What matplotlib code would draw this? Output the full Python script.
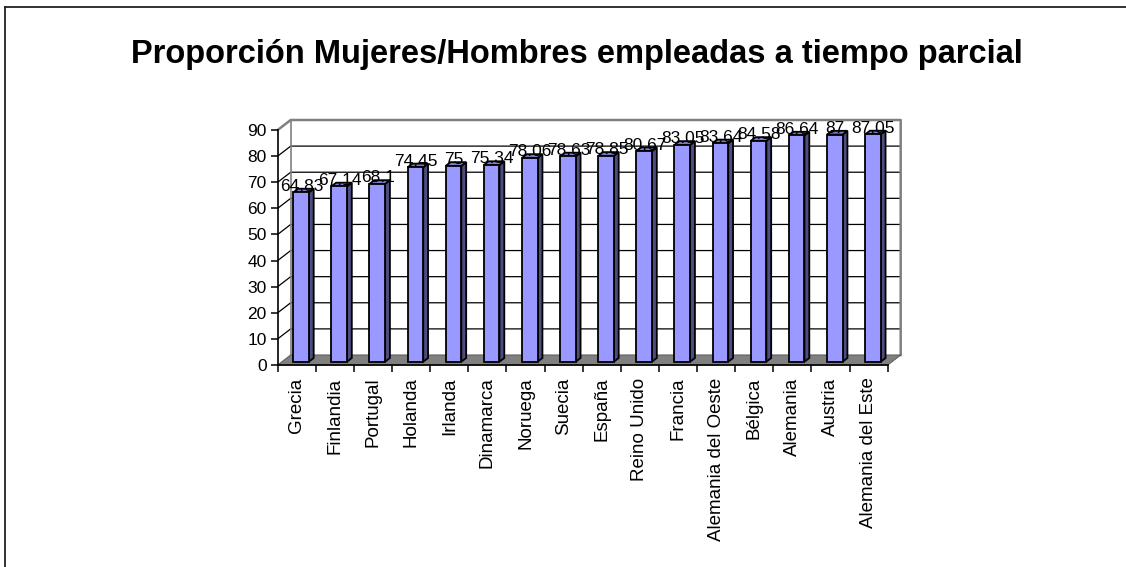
import matplotlib
matplotlib.use("Agg")
import matplotlib.pyplot as plt
from matplotlib.patches import Polygon, Rectangle
from matplotlib.lines import Line2D

plt.rcParams['font.family'] = ['Liberation Sans', 'DejaVu Sans']

# ---------------- data ----------------
categories = ["Grecia", "Finlandia", "Portugal", "Holanda", "Irlanda", "Dinamarca",
              "Noruega", "Suecia", "España", "Reino Unido", "Francia",
              "Alemania del Oeste", "Bélgica", "Alemania", "Austria", "Alemania del Este"]
values = [64.83, 67.14, 68.1, 74.45, 75, 75.34, 78.06, 78.63, 78.85, 80.67,
          83.05, 83.64, 84.58, 86.64, 87, 87.05]
value_labels = ["64.83", "67.14", "68.1", "74.45", "75", "75.34", "78.06", "78.63",
                "78.85", "80.67", "83.05", "83.64", "84.58", "86.64", "87", "87.05"]
yticks = list(range(0, 100, 10))
title = "Proporción Mujeres/Hombres empleadas a tiempo parcial"

# ---------------- figure ----------------
W, H = 1126, 567
fig = plt.figure(figsize=(W / 100, H / 100), dpi=100)
fig.patch.set_facecolor('white')

# outer frame (left and top edges visible)
fig.add_artist(Line2D([5 / W, 5 / W], [0, 1 - 7 / H], color='#222222', lw=1.3,
                      transform=fig.transFigure))
fig.add_artist(Line2D([5 / W, 1], [1 - 7 / H, 1 - 7 / H], color='#222222', lw=1.3,
                      transform=fig.transFigure))

x_left, x_right = 277.7, 887.7
y_bot, y_top = 365, 130
ax = fig.add_axes([x_left / W, 1 - y_bot / H, (x_right - x_left) / W, (y_bot - y_top) / H])
ax.set_facecolor('none')
n = len(categories)
ymax = 90
ax.set_xlim(0, n)
ax.set_ylim(0, ymax)

px_per_cat = (x_right - x_left) / n
px_per_val = (y_bot - y_top) / ymax
DX = 13 / px_per_cat
DY = 10 / px_per_val

wall_col = '#808080'
# side wall and back wall
ax.add_patch(Polygon([(0, 0), (DX, DY), (DX, ymax + DY), (0, ymax)], closed=True,
                     facecolor='white', edgecolor='none', zorder=0.5, clip_on=False))
ax.add_patch(Polygon([(DX, DY), (n + DX, DY), (n + DX, ymax + DY), (DX, ymax + DY)],
                     closed=True, facecolor='white', edgecolor='none', zorder=0.5, clip_on=False))
# gridlines
for v in yticks[1:-1]:
    ax.plot([0, DX, n + DX], [v, v + DY, v + DY], color='black', lw=0.9, zorder=0.8,
            clip_on=False, solid_capstyle='butt')
# wall outlines (gray)
ax.plot([0, DX, n + DX, n + DX], [ymax, ymax + DY, ymax + DY, DY], color=wall_col, lw=1.8,
        zorder=0.9, clip_on=False)
ax.plot([DX, DX], [DY, ymax + DY], color=wall_col, lw=1.2, zorder=0.9, clip_on=False)
# floor
ax.add_patch(Polygon([(0, 0), (n, 0), (n + DX, DY), (DX, DY)], closed=True,
                     facecolor='#808080', edgecolor='#606060', lw=0.8, zorder=1, clip_on=False))

# bars
f0, f1 = 0.33, 0.70
bw = 0.41
front_col = '#9999FF'
side_col = '#4D4D80'
top_col = '#7C7CCC'
for i, v in enumerate(values):
    x0 = i + 0.5 - bw / 2 + f0 * DX
    y0 = f0 * DY
    ddx = (f1 - f0) * DX
    ddy = (f1 - f0) * DY
    z = 3 + i * 0.01
    ax.add_patch(Polygon([(x0 + bw, y0), (x0 + bw + ddx, y0 + ddy), (x0 + bw + ddx, y0 + ddy + v),
                          (x0 + bw, y0 + v)], closed=True, facecolor=side_col,
                         edgecolor='black', lw=1.3, zorder=z, clip_on=False, joinstyle='miter'))
    ax.add_patch(Polygon([(x0, y0 + v), (x0 + bw, y0 + v), (x0 + bw + ddx, y0 + v + ddy),
                          (x0 + ddx, y0 + v + ddy)], closed=True, facecolor=top_col,
                         edgecolor='black', lw=1.3, zorder=z, clip_on=False, joinstyle='miter'))
    ax.add_patch(Rectangle((x0, y0), bw, v, facecolor=front_col, edgecolor='black', lw=1.3,
                           zorder=z, clip_on=False, joinstyle='miter'))
    ax.text(i + 0.5 + (f0 + f1) / 2 * DX - 0.05, v + f0 * DY + 6 / px_per_val, value_labels[i],
            ha='center', va='center', fontsize=12.5, color='black', zorder=10, clip_on=False)

# axes styling
for s in ['top', 'right']:
    ax.spines[s].set_visible(False)
for s in ['left', 'bottom']:
    ax.spines[s].set_color('black')
    ax.spines[s].set_linewidth(1.2)
    ax.spines[s].set_zorder(5)

ax.set_yticks(yticks)
ax.set_yticklabels([str(t) for t in yticks])
ax.tick_params(axis='y', direction='out', length=5, width=1.1, pad=3, labelsize=12.5,
               colors='black')

ax.set_xticks([i + 0.5 for i in range(n)])
ax.set_xticklabels(categories, rotation=90, ha='center', va='top')
ax.tick_params(axis='x', which='major', length=0, pad=9, labelsize=13.5, colors='black')
ax.set_xticks(list(range(n + 1)), minor=True)
ax.tick_params(axis='x', which='minor', direction='out', length=5, width=1.1, colors='black')

fig.text(577 / W, 1 - 55 / H, title, ha='center', va='center', fontsize=23.5,
         fontweight='bold', color='black')

fig.savefig('out.png', dpi=100, facecolor='white')
